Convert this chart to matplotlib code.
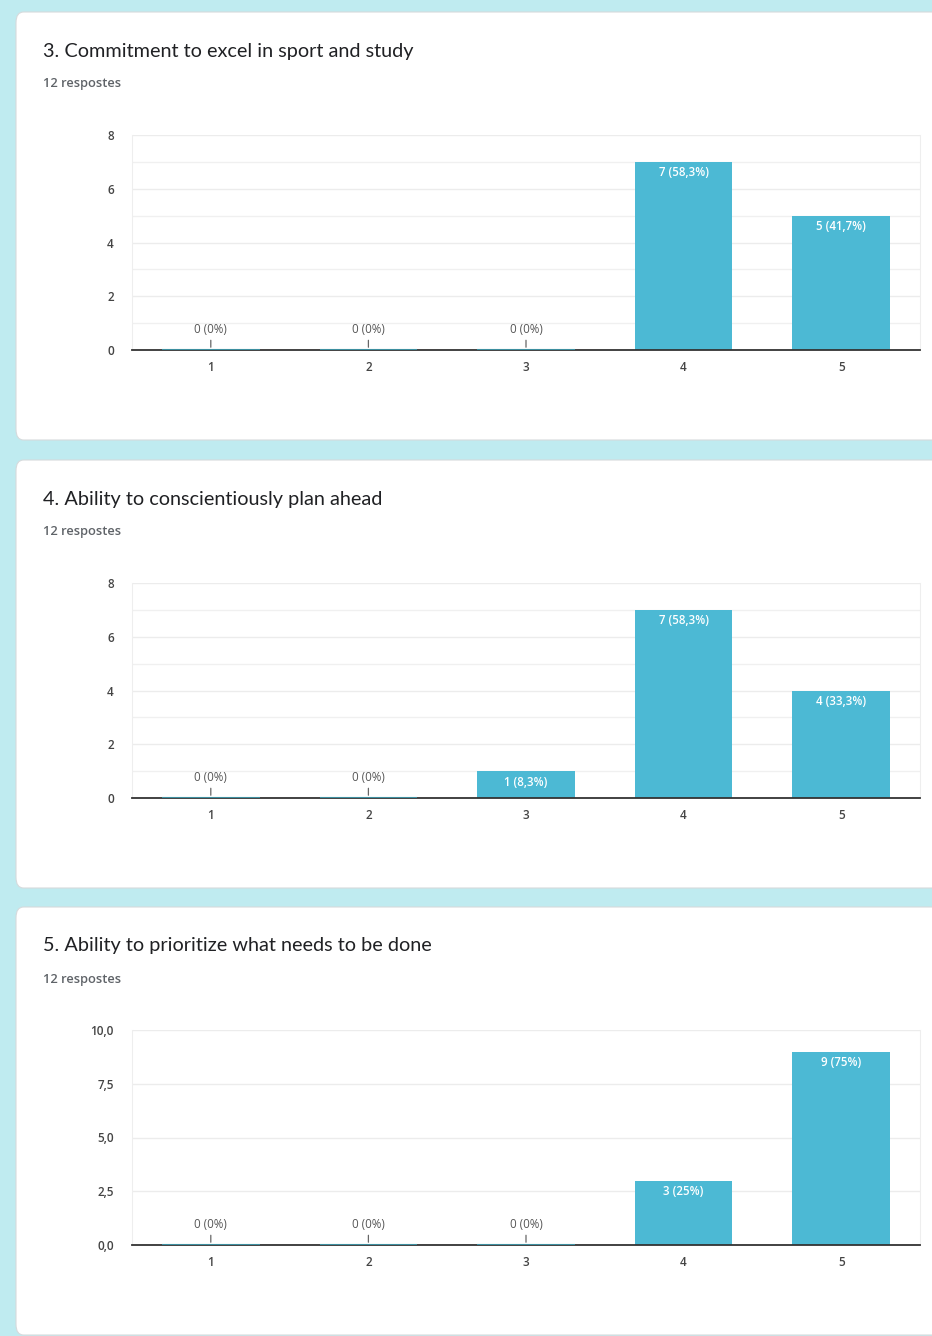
import matplotlib.pyplot as plt
from matplotlib.patches import FancyBboxPatch
from matplotlib.ticker import MultipleLocator, FuncFormatter

W, H = 932, 1336

categories = [1, 2, 3, 4, 5]
titles = [
    "3. Commitment to excel in sport and study",
    "4. Ability to conscientiously plan ahead",
    "5. Ability to prioritize what needs to be done",
]
counts = [
    [0, 0, 0, 7, 5],
    [0, 0, 1, 7, 4],
    [0, 0, 0, 3, 9],
]
pct_labels = [
    ["0%", "0%", "0%", "58,3%", "41,7%"],
    ["0%", "0%", "8,3%", "58,3%", "33,3%"],
    ["0%", "0%", "0%", "25%", "75%"],
]
responses = "12 respostes"
y_max = [8, 8, 10]
y_major = [2, 2, 2.5]
y_minor = [1, 1, None]

BG = "#bfebf0"
BAR = "#4cb9d4"
TEXT = "#202124"
GREY = "#5f6368"
SMALL = ["Open Sans", "DejaVu Sans"]

plt.rcParams["font.family"] = ["Lato", "DejaVu Sans"]

fig = plt.figure(figsize=(W / 100, H / 100), dpi=100)
fig.patch.set_facecolor(BG)


def rect(x0, y0, x1, y1):
    return [x0 / W, 1 - y1 / H, (x1 - x0) / W, (y1 - y0) / H]


card_top = [12, 460, 907]
card_h = 428

for i in range(3):
    top = card_top[i]
    # white card behind each chart
    card = FancyBboxPatch((16 / W, 1 - (top + card_h) / H), (W + 20) / W, card_h / H,
                          boxstyle="round,pad=0,rounding_size=0.008",
                          transform=fig.transFigure, facecolor="white",
                          edgecolor="#d6dadc", linewidth=0.8, zorder=-5)
    fig.patches.append(card)
    fig.text(43 / W, 1 - (top + 39) / H, titles[i], fontsize=14.3, color=TEXT,
             va="center", ha="left")
    fig.text(43 / W, 1 - (top + 72) / H, responses, fontsize=9.3, color=GREY,
             va="center", ha="left", family=SMALL, fontweight="semibold")

    ax = fig.add_axes(rect(132, top + 123, 920, top + 338))
    ax.set_zorder(2)
    ax.set_facecolor("white")
    ax.set_xlim(0.5, 5.5)
    ax.set_ylim(0, y_max[i])
    ax.yaxis.set_major_locator(MultipleLocator(y_major[i]))
    if y_minor[i]:
        ax.yaxis.set_minor_locator(MultipleLocator(y_minor[i]))
        ax.grid(axis="y", which="minor", color="#f0f0f0", linewidth=1)
    ax.grid(axis="y", which="major", color="#ececec", linewidth=1)
    ax.set_axisbelow(True)
    if y_max[i] == 10:
        ax.yaxis.set_major_formatter(FuncFormatter(lambda v, p: f"{v:.1f}".replace(".", ",")))
    ax.tick_params(axis="y", which="both", length=0, labelsize=8.5, labelcolor="#444444", pad=13)
    ax.set_xticks(categories)
    ax.tick_params(axis="x", length=0, labelsize=8.5, labelcolor="#444444", pad=8)
    for lab in ax.get_xticklabels() + ax.get_yticklabels():
        lab.set_family(SMALL)
        lab.set_fontweight("semibold")
    ax.spines["top"].set_visible(False)
    ax.spines["left"].set_color("#eeeeee")
    ax.spines["right"].set_color("#eeeeee")
    ax.spines["bottom"].set_color("#333333")
    ax.spines["bottom"].set_linewidth(1.3)

    bars = ax.bar(categories, counts[i], width=0.62, color=BAR, zorder=2)
    for b, c, p in zip(bars, counts[i], pct_labels[i]):
        label = f"{c} ({p})"
        x = b.get_x() + b.get_width() / 2
        if c == 0:
            # empty category: short stem with the label above the baseline
            ax.annotate("", xy=(x, 0), xytext=(0, 9), textcoords="offset points",
                        arrowprops=dict(arrowstyle="-", color="#666666", lw=0.9))
            ax.hlines(0, b.get_x(), b.get_x() + b.get_width(), color="#3d8fa0", lw=1.5, zorder=3)
            ax.annotate(label, xy=(x, 0), xytext=(0, 15), textcoords="offset points",
                        ha="center", va="center", fontsize=8.3, color="#555555", family=SMALL)
        else:
            ax.annotate(label, xy=(x, c), xytext=(0, -8), textcoords="offset points",
                        ha="center", va="center", fontsize=8.3, color="white", family=SMALL,
                        fontweight="semibold")

fig.savefig("out.png", dpi=100, facecolor=BG)
